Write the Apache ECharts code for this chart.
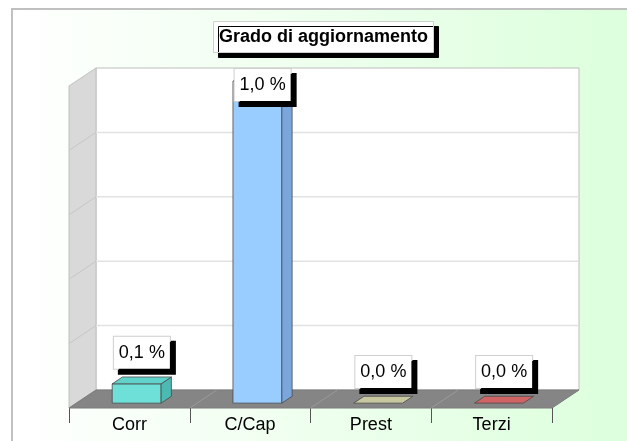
<!DOCTYPE html>
<html>
<head>
<meta charset="utf-8">
<script src="https://cdn.jsdelivr.net/npm/echarts@6/dist/echarts.min.js"></script>
<style>
  html, body { margin: 0; padding: 0; background: #fff; }
  #chart { width: 627px; height: 441px; }
</style>
</head>
<body>
<div id="chart"></div>
<script>
const categories = ['Corr', 'C/Cap', 'Prest', 'Terzi']
const values = [0.06, 1.0, 0, 0]
const frontColors = ['#6fe0d8', '#99ccff', '#c8c8a0', '#d06464']
const sideColors = ['#4cbab2', '#7ba6dc', '#a8a882', '#b04c4c']
const topColors = ['#5fd2ca', '#8cbcf0', '#c8c8a0', '#d06464']
const yMax = 1.0
const yStep = 0.2

// depth offset front -> back wall
const DX = 27
const DY = -18
const FONT = 'Arial, "Liberation Sans", sans-serif'

const fmt = (v) => v.toFixed(1).replace('.', ',') + ' %'

const chart = echarts.init(document.getElementById('chart'))

function renderWalls (params, api) {
  const band = api.size([1, 0])[0]
  const left = api.coord([0, 0])[0] - band / 2
  const right = left + band * categories.length
  const yTop = api.coord([0, yMax])[1]
  const yBot = api.coord([0, 0])[1]
  const children = []
  // back wall
  children.push({
    type: 'rect',
    shape: { x: left + DX, y: yTop + DY, width: right - left, height: yBot - yTop },
    style: { fill: '#ffffff', stroke: '#bdbdbd', lineWidth: 1 }
  })
  // side wall
  children.push({
    type: 'polygon',
    shape: { points: [[left, yTop], [left + DX, yTop + DY], [left + DX, yBot + DY], [left, yBot]] },
    style: { fill: '#d9d9d9', stroke: '#c0c0c0', lineWidth: 1 }
  })
  // grid lines
  for (let v = yStep; v < yMax - 1e-9; v += yStep) {
    const y = api.coord([0, v])[1]
    children.push({
      type: 'line',
      shape: { x1: left + DX, y1: y + DY, x2: right + DX, y2: y + DY },
      style: { stroke: '#e2e2e2', lineWidth: 1.5 }
    })
    children.push({
      type: 'line',
      shape: { x1: left, y1: y, x2: left + DX, y2: y + DY },
      style: { stroke: '#c6c6c6', lineWidth: 1 }
    })
  }
  // floor
  children.push({
    type: 'polygon',
    shape: { points: [[left, yBot], [right, yBot], [right + DX, yBot + DY], [left + DX, yBot + DY]] },
    style: { fill: '#858585', stroke: '#7a7a7a', lineWidth: 1 }
  })
  for (let i = 1; i < categories.length; i++) {
    const x = left + band * i
    children.push({
      type: 'line',
      shape: { x1: x, y1: yBot, x2: x + DX, y2: yBot + DY },
      style: { stroke: '#9a9a9a', lineWidth: 1 }
    })
  }
  return { type: 'group', children }
}

function renderBar (params, api) {
  const i = api.value(0)
  const v = api.value(1)
  const base = api.coord([i, 0])
  const top = api.coord([i, v])
  const yTopWall = api.coord([i, yMax])[1] + DY
  const bw = api.size([1, 0])[0] * 0.405
  const f0 = 0.27
  const f1 = 0.65
  const x0 = base[0] - bw / 2 + DX * f0
  const x1 = x0 + bw
  const yb = base[1] + DY * f0
  const yt = top[1] + DY * f0
  const dx = DX * (f1 - f0)
  const dy = DY * (f1 - f0)
  const line = { stroke: '#4a4a4a', lineWidth: 0.8 }
  const children = []
  if (v > 0) {
    children.push({
      type: 'rect',
      shape: { x: x0, y: yt, width: bw, height: yb - yt },
      style: Object.assign({ fill: frontColors[i] }, line)
    })
    children.push({
      type: 'polygon',
      shape: { points: [[x1, yt], [x1 + dx, yt + dy], [x1 + dx, yb + dy], [x1, yb]] },
      style: Object.assign({ fill: sideColors[i] }, line)
    })
  }
  children.push({
    type: 'polygon',
    shape: { points: [[x0, yt], [x0 + dx, yt + dy], [x1 + dx, yt + dy], [x1, yt]] },
    style: Object.assign({ fill: topColors[i] }, line)
  })
  const labelBottom = Math.max(top[1] - 20, yTopWall + 33)
  children.push({
    type: 'text',
    style: {
      text: fmt(v),
      x: base[0] + 12.5,
      y: labelBottom,
      align: 'center',
      verticalAlign: 'bottom',
      font: '18px ' + FONT,
      fill: '#000',
      lineHeight: 20,
      backgroundColor: '#fff',
      borderColor: '#cfcfcf',
      borderWidth: 1,
      padding: [6, 5, 6, 5],
      shadowColor: '#000',
      shadowBlur: 0,
      shadowOffsetX: 5,
      shadowOffsetY: 5
    }
  })
  return { type: 'group', children }
}

const options = {
  animation: false,
  graphic: [
    {
      type: 'rect',
      z: -10,
      silent: true,
      shape: { x: 12, y: 9, width: 640, height: 460 },
      style: {
        fill: new echarts.graphic.LinearGradient(0, 0, 1, 0, [
          { offset: 0, color: '#ffffff' },
          { offset: 1, color: '#dbffdb' }
        ]),
        stroke: '#c0c0c0',
        lineWidth: 2
      }
    }
  ],
  title: {
    text: 'Grado di aggiornamento',
    left: 213,
    top: 21,
    padding: [6, 6, 6, 6],
    backgroundColor: '#fff',
    borderColor: '#cfcfcf',
    borderWidth: 1,
    shadowColor: '#000',
    shadowBlur: 0,
    shadowOffsetX: 5,
    shadowOffsetY: 5,
    textStyle: {
      fontFamily: FONT,
      fontSize: 18,
      fontWeight: 'bold',
      color: '#000',
      lineHeight: 20
    }
  },
  grid: {
    left: 69,
    top: 86,
    width: 483,
    height: 322
  },
  xAxis: {
    type: 'category',
    data: categories,
    axisLine: { show: false },
    axisTick: {
      show: true,
      length: 15,
      lineStyle: { color: '#555' }
    },
    axisLabel: {
      margin: 8,
      fontFamily: FONT,
      fontSize: 18,
      color: '#000'
    },
    splitLine: { show: false }
  },
  yAxis: {
    type: 'value',
    min: 0,
    max: yMax,
    interval: yStep,
    show: false
  },
  series: [
    {
      type: 'custom',
      name: 'walls',
      silent: true,
      z: 1,
      renderItem: renderWalls,
      data: [[0, 0]]
    },
    {
      type: 'custom',
      name: 'Grado di aggiornamento',
      z: 3,
      renderItem: renderBar,
      data: categories.map((c, i) => [i, values[i]])
    }
  ]
}
chart.setOption(options)
window.addEventListener('resize', function () {
  chart.resize()
})
</script>
</body>
</html>
